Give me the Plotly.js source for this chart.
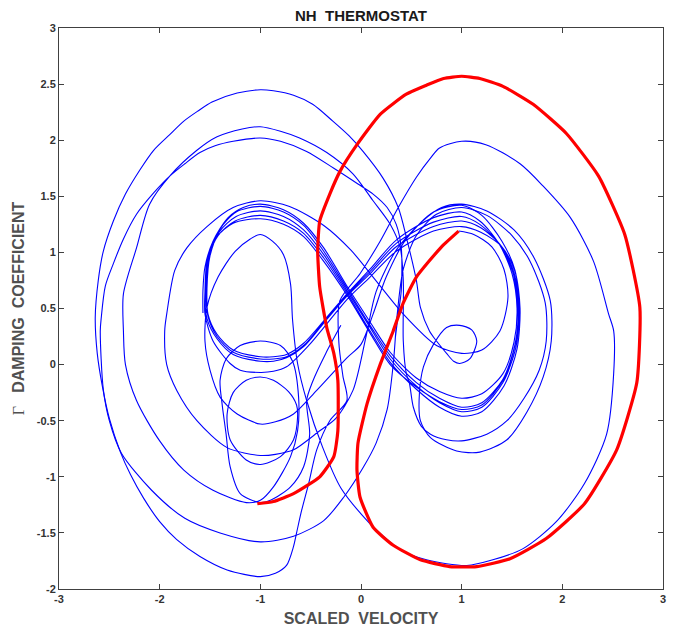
<!DOCTYPE html>
<html><head><meta charset="utf-8">
<script src="https://cdn.plot.ly/plotly-3.0.1.min.js"></script>
<style>body{margin:0;background:#fff}#chart{width:680px;height:632px}</style>
</head><body><div id="chart"></div>
<script>
// ---- Blue trajectory pieces: [scaled velocity, damping coefficient] ----
const fig8Chain = [
[-1.57,0.46],[-1.57,0.66],[-1.55,0.87],[-1.47,1.10],[-1.32,1.31],[-1.17,1.40],[-1.0,1.43],
[-0.77,1.38],[-0.57,1.26],[-0.37,1.04],[-0.14,0.70],[0.09,0.38],[0.29,0.11],[0.55,-0.12],[0.78,-0.24],[1.0,-0.30],
[1.2,-0.26],[1.41,-0.08],[1.52,0.20],[1.55,0.50],[1.50,0.81],[1.37,1.08],[1.18,1.28],[1.0,1.36],
[0.72,1.31],[0.35,1.11],[0.09,0.85],[-0.14,0.63],[-0.37,0.39],[-0.57,0.19],[-0.74,0.09],[-0.87,0.07],[-1.0,0.07],
[-1.27,0.13],[-1.43,0.27],[-1.52,0.45],[-1.53,0.68],[-1.50,0.97],[-1.40,1.21],[-1.24,1.36],[-1.0,1.41],
[-0.77,1.36],[-0.57,1.24],[-0.37,1.01],[-0.14,0.68],[0.09,0.35],[0.29,0.08],[0.55,-0.16],[0.78,-0.30],[1.0,-0.38],
[1.2,-0.34],[1.41,-0.13],[1.53,0.18],[1.56,0.50],[1.51,0.82],[1.38,1.07],[1.18,1.25],[1.0,1.32],
[0.72,1.27],[0.35,1.08],[0.09,0.83],[-0.14,0.62],[-0.37,0.38],[-0.57,0.17],[-0.74,0.07],[-0.87,0.05],[-1.0,0.05],
[-1.27,0.11],[-1.43,0.25],[-1.52,0.43],[-1.54,0.66],[-1.51,0.95],[-1.41,1.18],[-1.24,1.32],[-1.0,1.37],
[-0.77,1.32],[-0.57,1.20],[-0.37,0.98],[-0.14,0.66],[0.09,0.33],[0.29,0.05],[0.55,-0.19],[0.78,-0.34],[1.0,-0.42],
[1.2,-0.38],[1.41,-0.16],[1.54,0.16],[1.57,0.50],[1.52,0.82],[1.39,1.06],[1.19,1.22],[1.0,1.28],
[0.72,1.23],[0.35,1.05],[0.09,0.81],[-0.14,0.61],[-0.37,0.37],[-0.57,0.16],[-0.74,0.06],[-0.87,0.03],[-1.0,0.03],
[-1.27,0.09],[-1.43,0.23],[-1.53,0.41],[-1.55,0.65],[-1.52,0.93],[-1.42,1.15],[-1.25,1.28],[-1.0,1.33],
[-0.77,1.28],[-0.57,1.17],[-0.37,0.95],[-0.14,0.64],[0.09,0.30],[0.29,0.02],[0.55,-0.22],[0.78,-0.38],[1.0,-0.46],
[1.2,-0.42],[1.42,-0.19],[1.55,0.14],[1.58,0.50],[1.53,0.83],[1.40,1.05],[1.19,1.18],[1.0,1.23],
[0.72,1.19],[0.35,1.01],[0.09,0.78],[-0.14,0.58],[-0.37,0.33],[-0.51,0.18],[-0.74,-0.02],[-0.87,-0.06],[-1.0,-0.07],
[-1.20,-0.05],[-1.30,0.01],[-1.47,0.21],[-1.55,0.45],[-1.55,0.65],[-1.53,0.92],[-1.44,1.13],[-1.27,1.26],[-1.0,1.30],
[-0.77,1.25],[-0.57,1.14],[-0.37,0.92],[-0.14,0.62],[0.09,0.28],[0.29,0.0],[0.55,-0.20],[0.78,-0.33],[1.0,-0.40],
[1.2,-0.36],[1.41,-0.14],[1.53,0.17],[1.57,0.50],[1.53,0.84],[1.40,1.10],[1.20,1.33],[1.0,1.42]
];
const cuspLoop = [
[0.72,1.36],[0.45,1.12],[0.25,0.78],[0.12,0.45],[0.0,0.18],[-0.14,0.06],[-0.44,-0.23],[-0.67,-0.44],[-0.85,-0.51],[-1.0,-0.53],
[-1.23,-0.44],[-1.40,-0.29],[-1.50,-0.05],[-1.55,0.21],[-1.53,0.51],[-1.42,0.78],[-1.25,1.01],[-1.1,1.12],[-1.0,1.16]
];
const bigRightLoop = [
[-0.88,1.10],[-0.77,0.98],[-0.70,0.72],[-0.68,0.40],[-0.63,0.01],[-0.54,-0.32],[-0.38,-0.74],[-0.2,-1.1],[0.09,-1.42],[0.16,-1.48],
[0.39,-1.65],[0.65,-1.74],[1.05,-1.79],[1.31,-1.74],[1.61,-1.64],[1.94,-1.40],[2.22,-1.06],[2.44,-0.62],[2.51,-0.08],[2.51,0.30],
[2.46,0.45],[2.31,0.92],[2.08,1.31],[1.81,1.59],[1.58,1.79],[1.24,1.96],[1.0,1.99],[0.78,1.93],[0.69,1.84],[0.55,1.67],
[0.37,1.40],[0.19,1.10],[-0.01,0.81],[-0.21,0.57],[-0.22,0.2],[-0.18,-0.1],[-0.14,-0.32],[-0.31,-0.50],[-0.44,-0.76],[-0.52,-1.06],
[-0.59,-1.30],[-0.64,-1.50],[-0.67,-1.62],[-0.74,-1.79],[-0.85,-1.86],[-1.0,-1.89]
];
const outerLeftLoop = [
[-1.33,-1.83],[-1.60,-1.71],[-1.83,-1.56],[-2.0,-1.40],[-2.16,-1.19],[-2.29,-0.98],[-2.39,-0.78],[-2.50,-0.48],[-2.57,-0.19],[-2.62,0.10],
[-2.64,0.42],[-2.61,0.75],[-2.56,1.01],[-2.46,1.28],[-2.34,1.52],[-2.20,1.73],[-2.06,1.91],[-1.90,2.05],[-1.76,2.17],[-1.62,2.26],
[-1.48,2.34],[-1.23,2.42],[-1.0,2.45],[-0.87,2.44],[-0.67,2.40],[-0.48,2.32],[-0.28,2.17],[-0.12,2.04],[0.02,1.90],[0.22,1.66],
[0.37,1.40],[0.46,1.10],[0.55,0.75],[0.59,0.51],[0.68,0.30],[0.75,0.21],[0.85,0.10],[0.92,0.03],[0.98,0.01],[1.08,0.05],
[1.15,0.21],[1.10,0.31],[0.98,0.35],[0.85,0.33],[0.72,0.18],[0.62,-0.02],[0.58,-0.26],[0.59,-0.50],[0.69,-0.65],[0.95,-0.77],
[1.18,-0.78],[1.45,-0.67],[1.65,-0.42],[1.81,-0.11],[1.89,0.21],[1.88,0.57],[1.72,0.95],[1.52,1.20],[1.25,1.37],[1.0,1.43]
];
const innerRightLoop = [
[0.8,1.40],[0.6,1.27],[0.35,1.02],[0.15,0.65],[0.05,0.25],[-0.08,-0.23],[-0.25,-0.48],[-0.41,-0.59],[-0.67,-0.76],[-0.85,-0.80],[-1.0,-0.81],
[-1.33,-0.74],[-1.63,-0.50],[-1.83,-0.23],[-1.93,0.0],[-1.95,0.30],[-1.93,0.45],[-1.85,0.84],[-1.73,1.04],[-1.53,1.23],[-1.27,1.40],[-1.0,1.46],
[-0.71,1.41],[-0.37,1.24],[-0.10,1.02],[0.12,0.78],[0.42,0.45],[0.75,0.17],[1.0,0.10],[1.2,0.13],[1.38,0.30],[1.46,0.60],[1.42,0.85],[1.30,1.05],[1.12,1.16],[0.97,1.19]
];
const ellipseChain = [
[-0.2,0.35],[-0.35,0.1],[-0.48,-0.15],[-0.54,-0.32],[-0.51,-0.62],[-0.57,-0.91],[-0.70,-1.09],[-0.90,-1.21],[-1.0,-1.23],
[-1.20,-1.15],[-1.30,-0.91],[-1.34,-0.62],[-1.38,-0.35],[-1.40,-0.14],[-1.34,0.05],[-1.20,0.17],[-1.0,0.21],
[-0.80,0.17],[-0.68,0.03],[-0.62,-0.29],[-0.63,-0.59],[-0.70,-0.82],[-0.87,-1.09],[-1.0,-1.21],
[-1.14,-1.23],[-1.47,-1.12],[-1.76,-0.94],[-2.0,-0.68],[-2.23,-0.32],[-2.34,0.0],[-2.36,0.30],[-2.36,0.63],[-2.23,1.04],[-2.10,1.43],
[-1.90,1.68],[-1.63,1.91],[-1.43,2.03],[-1.18,2.10],[-1.0,2.12],[-0.80,2.08],[-0.61,2.02],[-0.34,1.89],[-0.08,1.70],[0.12,1.46],
[0.29,1.25],[0.39,1.04],[0.42,0.75],[0.42,0.21],[0.45,-0.08],[0.48,-0.16],[0.52,-0.38],[0.60,-0.55],[0.69,-0.62],[0.85,-0.67],[1.0,-0.68],
[1.25,-0.62],[1.45,-0.50],[1.62,-0.30],[1.77,-0.05],[1.84,0.21],[1.83,0.55],[1.68,0.92],[1.50,1.15],[1.25,1.33],[1.0,1.40],
[0.75,1.34],[0.55,1.15],[0.42,0.85],[0.36,0.45],[0.32,0.0],[0.26,-0.40],[0.15,-0.70],[0.02,-0.92],[-0.17,-1.18],[-0.37,-1.39],[-0.67,-1.53],[-1.0,-1.58],
[-1.40,-1.50],[-1.75,-1.37],[-2.08,-1.12],[-2.38,-0.79],[-2.50,-0.50],[-2.56,-0.22],[-2.59,0.30],[-2.58,0.42],[-2.54,0.70],[-2.46,0.90],
[-2.36,1.12],[-2.23,1.34],[-2.06,1.53],[-1.90,1.68],[-1.75,1.79],[-1.60,1.89],[-1.45,1.95],[-1.27,1.99],[-1.0,2.02],
[-0.80,1.99],[-0.54,1.90],[-0.27,1.75],[-0.03,1.61],[0.12,1.52],[0.26,1.40],[0.35,1.25],[0.40,1.04],[0.40,0.66],[0.37,0.45],[0.34,0.23]
];
const smallLeftLoop = [
[-0.63,-0.47],[-0.67,-0.67],[-0.80,-0.82],[-1.0,-0.89],[-1.14,-0.85],[-1.30,-0.67],[-1.33,-0.44],[-1.27,-0.25],[-1.14,-0.14],
[-1.0,-0.11],[-0.87,-0.14],[-0.72,-0.24],[-0.64,-0.36],[-0.63,-0.47]
];
// ---- Red highlighted trajectory ----
const redPath = [
[0.97,1.19],[0.80,1.05],[0.55,0.78],[0.42,0.55],[0.32,0.30],[0.19,0.0],[0.06,-0.35],[-0.03,-0.70],[-0.04,-0.94],[-0.01,-1.18],
[0.12,-1.45],[0.32,-1.61],[0.59,-1.74],[0.88,-1.80],[1.15,-1.80],[1.48,-1.73],[1.84,-1.55],[2.22,-1.24],[2.54,-0.76],[2.74,-0.16],
[2.77,0.51],[2.62,1.16],[2.36,1.68],[2.04,2.06],[1.71,2.32],[1.41,2.48],[1.18,2.55],[1.0,2.57],[0.82,2.55],[0.65,2.49],
[0.45,2.41],[0.19,2.23],[-0.04,1.96],[-0.21,1.72],[-0.31,1.52],[-0.41,1.28],[-0.43,1.01],[-0.41,0.69],[-0.34,0.33],[-0.27,0.10],
[-0.23,-0.14],[-0.23,-0.59],[-0.27,-0.82],[-0.41,-1.0],[-0.67,-1.15],[-0.87,-1.22],[-1.03,-1.24]
];
const xTicks = [-3,-2,-1,0,1,2,3];
const yTicks = [-2,-1.5,-1,-0.5,0,0.5,1,1.5,2,2.5,3];
const yTickText = ['-2','-1.5','-1','-0.5','0','0.5','1','1.5','2','2.5','3'];

const bluePieces = [fig8Chain.concat(cuspLoop, bigRightLoop, outerLeftLoop, innerRightLoop), ellipseChain, smallLeftLoop];
const bx = [], by = [];
bluePieces.forEach((p, i) => {
  if (i > 0) { bx.push(null); by.push(null); }
  p.forEach(pt => { bx.push(pt[0]); by.push(pt[1]); });
});

const traces = [
  {x: bx, y: by, type: 'scatter', mode: 'lines', line: {color: '#0000ff', width: 1.1, shape: 'spline', smoothing: 0.8}, connectgaps: false, hoverinfo: 'skip'},
  {x: redPath.map(p => p[0]), y: redPath.map(p => p[1]), type: 'scatter', mode: 'lines', line: {color: '#ff0000', width: 3.2, shape: 'spline', smoothing: 0.5}, hoverinfo: 'skip'}
];
const tickFont = {family: 'Liberation Sans, Arial, sans-serif', size: 11, color: '#333333', weight: 'bold'};
const titleFont = {family: 'Liberation Sans, Arial, sans-serif', size: 16, color: '#505050', weight: 'bold'};
const layout = {
  width: 680, height: 632,
  margin: {l: 59, r: 17, t: 28, b: 43},
  paper_bgcolor: '#ffffff', plot_bgcolor: '#ffffff',
  showlegend: false,
  title: {text: 'NH\u00a0 THERMOSTAT', font: {family: 'Liberation Sans, Arial, sans-serif', size: 15, color: '#1a1a1a', weight: 'bold'},
          x: 0.5, xref: 'paper', y: 1, yref: 'paper', yanchor: 'bottom', pad: {b: 7}},
  xaxis: {range: [-3, 3], tickvals: xTicks, ticktext: xTicks.map(String), ticks: 'inside', ticklen: 5, tickwidth: 1,
          tickcolor: '#404040', linecolor: '#404040', linewidth: 1, mirror: 'ticks', showline: true, showgrid: false,
          zeroline: false, tickfont: tickFont, automargin: false,
          title: {text: 'SCALED\u00a0 VELOCITY', font: titleFont, standoff: 8}},
  yaxis: {range: [-2, 3], tickvals: yTicks, ticktext: yTickText, ticks: 'inside', ticklen: 5, tickwidth: 1,
          tickcolor: '#404040', linecolor: '#404040', linewidth: 1, mirror: 'ticks', showline: true, showgrid: false,
          zeroline: false, tickfont: tickFont, automargin: false,
          title: {text: "<span style='font-family:Liberation Serif;font-weight:normal'>\u0393</span>\u00a0\u00a0 DAMPING\u00a0 COEFFICIENT", font: titleFont, standoff: 8}}
};
Plotly.newPlot('chart', traces, layout, {displayModeBar: false, staticPlot: true});
</script>
</body></html>
